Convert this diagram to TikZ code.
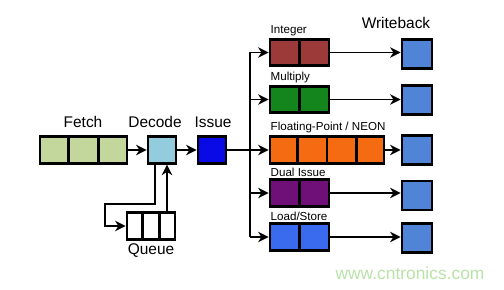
\documentclass[tikz,border=0pt]{standalone}
\usepackage{fontspec}
\setmainfont{Liberation Sans}
\usetikzlibrary{arrows.meta,calc,positioning}
\definecolor{fetch-green}{HTML}{C3D69B}
\definecolor{decode-blue}{HTML}{93CDDD}
\definecolor{issue-blue}{HTML}{0A0AE6}
\definecolor{int-red}{HTML}{9B3A38}
\definecolor{mul-green}{HTML}{13851C}
\definecolor{fp-orange}{HTML}{F56B12}
\definecolor{dual-purple}{HTML}{6E1078}
\definecolor{ls-blue}{HTML}{3A6AEE}
\definecolor{wb-blue}{HTML}{4F84D6}
\definecolor{mark-green}{HTML}{B8E2A8}

% dividers inside a multi-cell box
\newcommand{\splitcells}[2]{%
  \foreach \f in {#2}{%
    \draw[line width=1.6pt] ($(#1.north west)!\f!(#1.north east)$)
      -- ($(#1.south west)!\f!(#1.south east)$);}}

\begin{document}
\begin{tikzpicture}[x=0.02cm, y=-0.02cm,
    stage/.style={draw=black, line width=1.6pt, inner sep=0pt,
      minimum height=0.53cm},
    stagename/.style={font=\fontsize{8.8}{10}\selectfont, inner sep=1pt},
    unitname/.style={font=\fontsize{6.6}{8}\selectfont, anchor=south west,
      inner sep=1pt},
    link/.style={-{Stealth[length=6pt,width=6pt]}, line width=1.1pt}]
    \useasboundingbox (0,0) rectangle (504,290);

    % front end
    \node[stage, fill=fetch-green, minimum width=1.74cm] (fetch) at (83.5,150) {};
    \splitcells{fetch}{1/3,2/3}
    \node[stage, fill=decode-blue, minimum width=0.56cm] (decode) at (162,150) {};
    \node[stage, fill=issue-blue, minimum width=0.56cm] (issue) at (212,150) {};
    \node[stage, fill=white, minimum width=0.96cm] (queue) at (151,226) {};
    \splitcells{queue}{1/3,2/3}

    \node[stagename] (fetchname) at (83,122) {Fetch};
    \node[stagename] (decodename) at (155,122) {Decode};
    \node[stagename] (issuename) at (213,122) {Issue};
    \node[stagename] (queuename) at (151,251) {Queue};

    \draw[link] (fetch.east) -- (decode.west);
    \draw[link] (decode.east) -- (issue.west);
    \draw[link] ($(decode.south)+(-7,0)$) -- ++(0,39) -- ++(-50,0)
      |- (queue.west);
    \coordinate (qup) at ($(queue.north)+(16,0)$);
    \draw[link] (qup) -- (qup |- decode.south);

    % execution units
    \node[stage, fill=int-red, minimum width=1.18cm] (int) at (299.5,52.5) {};
    \splitcells{int}{1/2}
    \node[stage, fill=mul-green, minimum width=1.18cm] (mul) at (299.5,99.5) {};
    \splitcells{mul}{1/2}
    \node[stage, fill=fp-orange, minimum width=2.28cm] (fp) at (327,150) {};
    \splitcells{fp}{1/4,2/4,3/4}
    \node[stage, fill=dual-purple, minimum width=1.18cm] (dual) at (299.5,193) {};
    \splitcells{dual}{1/2}
    \node[stage, fill=ls-blue, minimum width=1.18cm] (ls) at (299.5,237) {};
    \splitcells{ls}{1/2}

    \node[unitname] (intname) at (int.north west) {Integer};
    \node[unitname] (mulname) at (mul.north west) {Multiply};
    \node[unitname] (fpname) at (fp.north west) {Floating-Point / NEON};
    \node[unitname] (dualname) at (dual.north west) {Dual Issue};
    \node[unitname] (lsname) at (ls.north west) {Load/Store};

    \coordinate (split) at (250,150);
    \draw[line width=1.1pt] (issue.east) -- (split);
    \draw[line width=1.1pt] (split |- int.west) -- (split |- ls.west);
    \foreach \u in {int,mul,fp,dual,ls}
      \draw[link] (split |- \u.west) -- (\u.west);

    % writeback
    \foreach \w/\y in {wb1/54,wb2/100,wb3/150,wb4/195.5,wb5/238}
      \node[stage, fill=wb-blue, minimum width=0.6cm, minimum height=0.58cm]
        (\w) at (417,\y) {};
    \node[stagename] (wbname) at (396,23) {Writeback};

    \foreach \u/\w in {int/wb1,mul/wb2,fp/wb3,dual/wb4,ls/wb5}
      \draw[link] (\u.east) -- (\u.east -| \w.west);

    \node[text=mark-green, font=\fontsize{9.9}{11}\selectfont] (mark)
      at (410,273) {www.cntronics.com};
  \end{tikzpicture}
\end{document}
